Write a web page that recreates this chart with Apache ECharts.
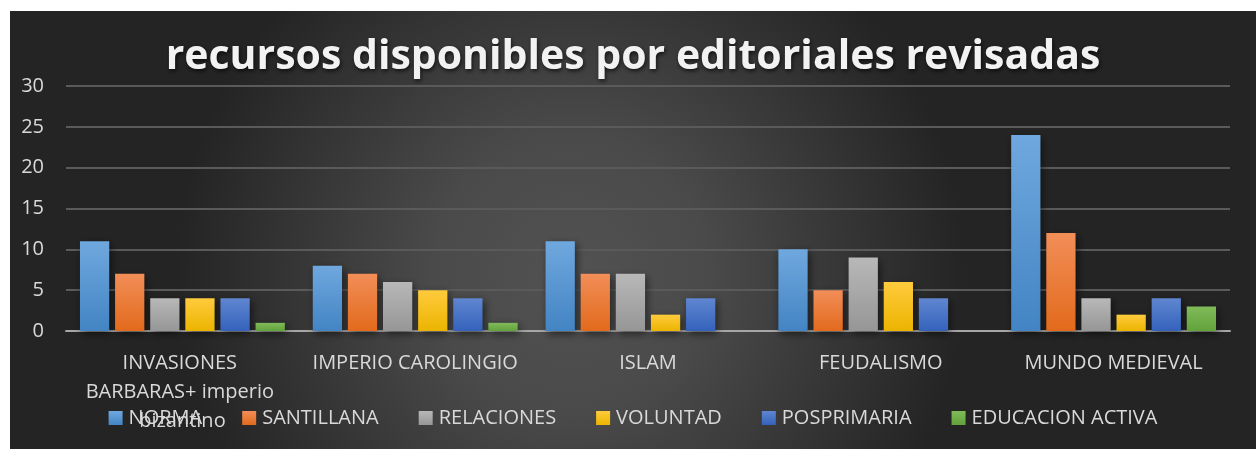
<!DOCTYPE html>
<html>
<head>
<meta charset="utf-8">
<script src="https://cdn.jsdelivr.net/npm/echarts@6/dist/echarts.min.js"></script>
<style>
  html, body { margin: 0; padding: 0; background: #ffffff; }
  #main { position: absolute; left: 10px; top: 11px; width: 1246px; height: 438px; }
</style>
</head>
<body>
<div id="main"></div>
<script>
// data
var categories = ['INVASIONES BARBARAS+ imperio bizantino', 'IMPERIO CAROLINGIO', 'ISLAM', 'FEUDALISMO', 'MUNDO MEDIEVAL'];
var norma       = [11, 8, 11, 10, 24];
var santillana  = [7, 7, 7, 5, 12];
var relaciones  = [4, 6, 7, 9, 4];
var voluntad    = [4, 5, 2, 6, 2];
var posprimaria = [4, 4, 4, 4, 4];
var educacion   = [1, 1, 0, 0, 3];
var yTicks = [0, 5, 10, 15, 20, 25, 30];

var chart = echarts.init(document.getElementById('main'));

function grad(top, bottom) {
  return new echarts.graphic.LinearGradient(0, 0, 0, 1, [
    { offset: 0, color: top },
    { offset: 1, color: bottom }
  ]);
}

function bar(name, data, top, bottom) {
  return {
    name: name,
    type: 'bar',
    data: data,
    barGap: '20%',
    barCategoryGap: '12%',
    itemStyle: {
      color: grad(top, bottom),
      shadowColor: 'rgba(0,0,0,0.55)',
      shadowBlur: 8,
      shadowOffsetX: 2,
      shadowOffsetY: 3
    },
    emphasis: { disabled: true }
  };
}

var labelFont = '"Open Sans", sans-serif';

chart.setOption({
  backgroundColor: new echarts.graphic.RadialGradient(0.45, 0.6, 0.9, [
    { offset: 0, color: '#525252' },
    { offset: 0.35, color: '#4a4a4a' },
    { offset: 1, color: '#242424' }
  ]),
  animation: false,
  title: {
    text: 'recursos disponibles por editoriales revisadas',
    left: 'center',
    top: 21,
    textStyle: {
      color: '#f2f2f2',
      fontFamily: labelFont,
      fontWeight: 'bold',
      fontSize: 41,
      textShadowColor: 'rgba(0,0,0,0.7)',
      textShadowBlur: 4,
      textShadowOffsetX: 1,
      textShadowOffsetY: 2
    }
  },
  legend: {
    bottom: 16,
    left: 'center',
    itemWidth: 14,
    itemHeight: 14,
    itemGap: 40,
    icon: 'rect',
    textStyle: { color: '#d9d9d9', fontSize: 20, fontFamily: labelFont, padding: [0, 0, 0, 1] }
  },
  grid: { left: 56, right: 26, top: 75, bottom: 118 },
  xAxis: {
    type: 'category',
    data: categories,
    axisTick: { show: false },
    axisLine: { lineStyle: { color: '#a6a6a6', width: 2 } },
    axisLabel: {
      color: '#d9d9d9',
      fontSize: 20,
      fontFamily: labelFont,
      margin: 18,
      lineHeight: 29,
      width: 210,
      overflow: 'break',
      interval: 0
    }
  },
  yAxis: {
    type: 'value',
    min: yTicks[0],
    max: yTicks[yTicks.length - 1],
    interval: 5,
    axisLine: { show: false },
    axisTick: { show: false },
    axisLabel: { color: '#d9d9d9', fontSize: 20, fontFamily: labelFont, margin: 22 },
    splitLine: { lineStyle: { color: '#5a5a5a', width: 2 } }
  },
  series: [
    bar('NORMA', norma, '#6fa8de', '#4384c4'),
    bar('SANTILLANA', santillana, '#f28e58', '#e26a1c'),
    bar('RELACIONES', relaciones, '#b8b8b8', '#969696'),
    bar('VOLUNTAD', voluntad, '#ffcb3d', '#ecb400'),
    bar('POSPRIMARIA', posprimaria, '#5f86d0', '#3462bb'),
    bar('EDUCACION ACTIVA', educacion, '#80bb5a', '#62a23a')
  ]
});
</script>
</body>
</html>
